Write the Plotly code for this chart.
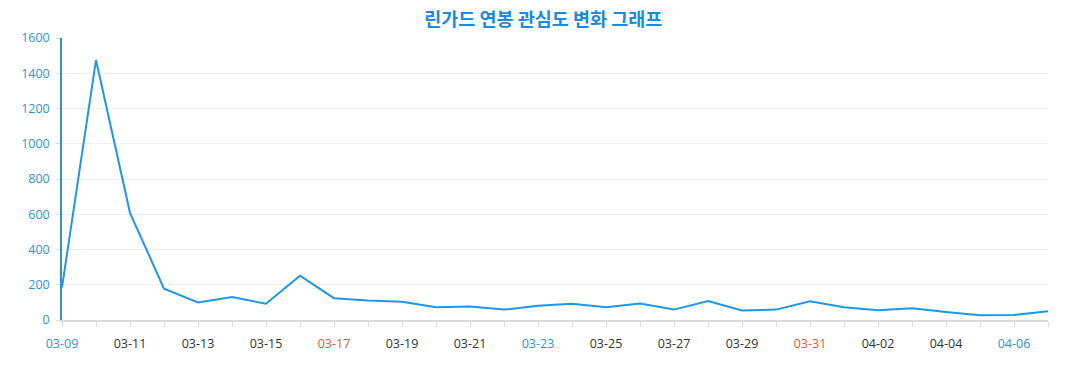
import plotly.graph_objects as go

dates = ["03-09", "03-10", "03-11", "03-12", "03-13", "03-14", "03-15", "03-16",
         "03-17", "03-18", "03-19", "03-20", "03-21", "03-22", "03-23", "03-24",
         "03-25", "03-26", "03-27", "03-28", "03-29", "03-30", "03-31", "04-01",
         "04-02", "04-03", "04-04", "04-05", "04-06", "04-07"]
values = [185, 1475, 608, 178, 100, 130, 92, 251, 124, 110, 104, 72,
          76, 59, 81, 92, 72, 93, 59, 107, 54, 59, 106, 72,
          55, 66, 46, 27, 29, 50]
label_colors = {"03-09": "#2f93d0", "03-17": "#e0583a", "03-23": "#2f93d0",
                "03-31": "#e0583a", "04-06": "#2f93d0"}
title = "린가드 연봉 관심도 변화 그래프"

ticktext = []
for i, d in enumerate(dates):
    if i % 2 == 0:
        c = label_colors.get(d, "#333333")
        ticktext.append(f'<span style="color:{c}">{d}</span>')
    else:
        ticktext.append("")

fig = go.Figure()
fig.add_trace(go.Scatter(
    x=list(range(len(dates))), y=values, mode="lines",
    line=dict(color="#2196e6", width=2), hoverinfo="y"))

fig.update_layout(
    width=1077, height=390,
    margin=dict(l=62, r=29, t=38, b=70),
    paper_bgcolor="white", plot_bgcolor="white",
    showlegend=False,
    font=dict(family="Open Sans, Noto Sans CJK KR, sans-serif", size=12),
    title=dict(text=f"<b>{title}</b>", x=0.5045, xanchor="center", y=0.95, yanchor="middle",
               font=dict(family="Noto Sans CJK KR, sans-serif", size=18.5, color="#1a8be0")),
)
fig.update_xaxes(
    range=[0, len(dates) - 1], tickmode="array",
    tickvals=list(range(len(dates))), ticktext=ticktext,
    showgrid=False, zeroline=False,
    showline=True, linecolor="#dcdcdc", linewidth=2,
    ticks="outside", ticklen=5, tickcolor="#dcdcdc", tickwidth=1,
    ticklabelstandoff=6,
    tickfont=dict(size=12.5, color="#333333"),
)
fig.update_yaxes(
    range=[0, 1600], dtick=200,
    showgrid=True, gridcolor="#f0f0f0", gridwidth=1,
    zeroline=False,
    showline=True, linecolor="#2f93d0", linewidth=1.5,
    ticks="outside", ticklen=4, tickcolor="#dcdcdc",
    ticklabelstandoff=4,
    tickfont=dict(size=12.5, color="#2f93d0"),
)

fig.write_html("out.html", config={"displayModeBar": False},
               post_script="document.body.style.margin='0';")
